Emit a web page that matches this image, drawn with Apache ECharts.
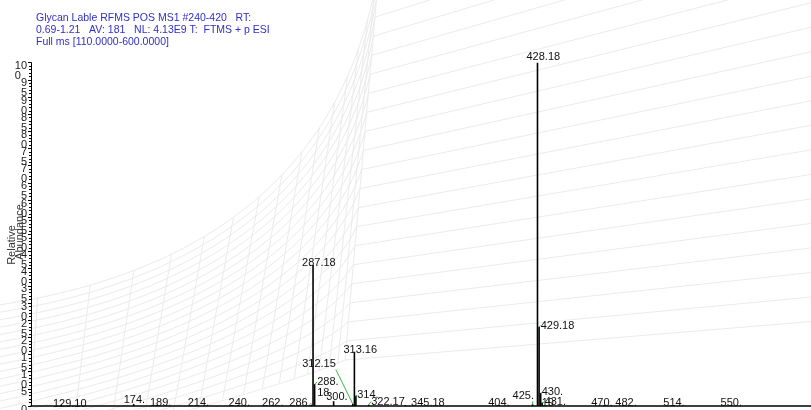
<!DOCTYPE html>
<html>
<head>
<meta charset="utf-8">
<script src="https://cdn.jsdelivr.net/npm/echarts@6/dist/echarts.min.js"></script>
<style>
  html, body { margin: 0; padding: 0; background: #fff; }
  #chart { width: 811px; height: 410px; }
</style>
</head>
<body>
<div id="chart"></div>
<script>
// Scan header
const headerLines = [
  'Glycan Lable RFMS POS MS1 #240-420   RT:',
  '0.69-1.21   AV: 181   NL: 4.13E9 T:  FTMS + p ESI',
  'Full ms [110.0000-600.0000]'
];

// Centroid peaks: m/z, relative abundance (%), and the printed peak label
const mzValues = [129.10, 174.50, 189.10, 214.10, 240.10, 262.10, 286.10, 287.18, 288.18, 300.10,
                  312.15, 313.16, 314.10, 322.17, 345.18, 404.10, 425.10, 428.18, 429.18, 430.19,
                  431.10, 470.10, 482.10, 514.10, 550.10];
const abundances = [0.3, 0.6, 0.3, 0.3, 0.3, 0.2, 0.3, 41.1, 6.4, 1.4,
                    0.6, 15.8, 3.0, 0.4, 0.3, 0.3, 0.5, 100, 23.1, 3.8,
                    1.0, 0.3, 0.3, 0.3, 0.3];
const peakLabels = ['129.10', '174.', '189.', '214.', '240.', '262.', '286.', '287.18', '288.\n18', '300.',
                    '312.15', '313.16', '314.', '322.17', '345.18', '404.', '425.', '428.18', '429.18', '430.\n19',
                    '431.', '470.', '482.', '514.', '550.'];

// Axis ranges and abundance tick labels
const mzRange = [110, 600];
const abundanceRange = [0, 100];
const abundanceStep = 5;
const abundanceTicks = [0, 5, 10, 15, 20, 25, 30, 35, 40, 45, 50, 55, 60, 65, 70, 75, 80, 85, 90, 95, 100];

// Label placement (pixel nudges relative to the peak top) and guide lines
const labelNudge = {
  0: { dx: -8.5, dy: -6.5 },
  1: { dx: -10, dy: -9 },
  2: { dx: -7 },
  3: { dx: -9 },
  4: { dx: -9.5 },
  6: { dx: -22, leader: true },
  8: { dx: 2.6, leader: true },
  9: { dx: -7.4, dy: -9.7 },
  10: { dx: -50.6, dy: -45.4, leader: true },
  12: { dx: 1.3, dy: -6.2, leader: true },
  13: { dx: 2.4, dy: -8.6, leader: true },
  14: { dx: 5.7 },
  16: { dx: -20, dy: -13.8, leader: true },
  17: { dy: -11.5 },
  18: { dx: 1.6, dy: -6.7, leader: true },
  19: { dx: 1, dy: -6, leader: true },
  20: { dx: 2.5, dy: -6, leader: true },
  21: { dx: -13 },
  22: { dx: -8 }
};

const FONT_FAMILY = '"Liberation Sans", Arial, Helvetica, sans-serif';
const LABEL_SIZE = 11;
const LINE_H = 11;
const measureCtx = document.createElement('canvas').getContext('2d');
measureCtx.font = LABEL_SIZE + 'px ' + FONT_FAMILY;

// Faint warped mesh behind the plot
function buildMesh() {
  const els = [];
  const stroke = '#ebebeb';
  const frame = v => {
    const A = [-40, 310 + 160 * v];
    const B = [380 - 35 * v, -40 + 400 * v];
    const C = [830, -200 + 520 * v];
    const Q = [B[0] - 45 - 20 * v, A[1] - 40 - 40 * v];
    return { A, B, C, Q };
  };
  const bez = (f, p) => [
    (1 - p) * (1 - p) * f.A[0] + 2 * (1 - p) * p * f.Q[0] + p * p * f.B[0],
    (1 - p) * (1 - p) * f.A[1] + 2 * (1 - p) * p * f.Q[1] + p * p * f.B[1]
  ];
  const nH = 22, nV = 16, steps = 48;
  for (let i = 0; i < nH; i++) {
    const f = frame(i / (nH - 1));
    const pts = [];
    for (let k = 0; k <= steps; k++) pts.push(bez(f, k / steps));
    pts.push(f.C);
    els.push({ type: 'polyline', silent: true, z: 0, shape: { points: pts }, style: { stroke, lineWidth: 1, fill: null } });
  }
  for (let j = 1; j <= nV; j++) {
    const p = Math.pow(j / nV, 0.8);
    const pts = [];
    for (let k = 0; k <= steps; k++) pts.push(bez(frame(k / steps), p));
    els.push({ type: 'polyline', silent: true, z: 0, shape: { points: pts }, style: { stroke, lineWidth: 1, fill: null } });
  }
  return els;
}

const chart = echarts.init(document.getElementById('chart'), null, { renderer: 'canvas' });

const peakData = mzValues.map((mz, i) => [mz, abundances[i], i]);
const tickData = abundanceTicks.map(v => [mzRange[0], v]);

function renderPeak(params, api) {
  const i = api.value(2);
  const base = api.coord([api.value(0), 0]);
  const top = api.coord([api.value(0), api.value(1)]);
  const n = Object.assign({ dx: -11, dy: -7.5, leader: false }, labelNudge[i] || {});
  const text = peakLabels[i];
  const lines = text.split('\n');
  const w = Math.max.apply(null, lines.map(l => measureCtx.measureText(l).width));
  const lx = top[0] + n.dx;
  const ly = top[1] + n.dy;
  const children = [{
    type: 'line',
    shape: { x1: base[0], y1: base[1], x2: top[0], y2: top[1] },
    style: { stroke: '#000', lineWidth: 1.6 }
  }];
  if (n.leader) {
    const ax = Math.min(Math.max(top[0], lx), lx + w);
    const ay = top[1] > ly + LINE_H ? ly + LINE_H : ly + LINE_H / 2;
    children.push({
      type: 'line',
      shape: { x1: top[0], y1: top[1], x2: ax, y2: ay },
      style: { stroke: '#3cb83c', lineWidth: 1 }
    });
  }
  children.push({
    type: 'text',
    x: lx, y: ly,
    style: {
      text: text,
      fontSize: LABEL_SIZE,
      fontFamily: FONT_FAMILY,
      fill: '#111',
      align: 'left', verticalAlign: 'top',
      textAlign: 'left', textVerticalAlign: 'top',
      lineHeight: LINE_H
    }
  });
  return { type: 'group', children };
}

// Abundance tick labels: the last digit wraps onto a second line
function renderTickLabel(params, api) {
  const v = api.value(1);
  const pos = api.coord([api.value(0), v]);
  const s = String(v);
  const text = s.length > 1 ? s.slice(0, -1) + '\n' + s.slice(-1) + '\u2007'.repeat(s.length - 2) : s;
  return {
    type: 'text',
    x: pos[0] - 4, y: pos[1] - 1.5,
    style: {
      text: text,
      fontSize: 11, fontFamily: FONT_FAMILY, fill: '#222',
      align: 'right', verticalAlign: 'top',
      textAlign: 'right', textVerticalAlign: 'top',
      lineHeight: 10
    }
  };
}

const option = {
  animation: false,
  backgroundColor: '#fff',
  title: {
    text: headerLines.join('\n'),
    left: 36, top: 12, padding: 0,
    textStyle: { color: '#2f2fc4', fontSize: 10.5, fontWeight: 'normal', fontFamily: FONT_FAMILY, lineHeight: 12 }
  },
  graphic: buildMesh().concat([
    { type: 'text', silent: true, rotation: Math.PI / 2, x: 11.5, y: 245, z: 5,
      style: { text: 'Relative', fontSize: 11, fontFamily: FONT_FAMILY, fill: '#333', align: 'center', verticalAlign: 'middle' } },
    { type: 'text', silent: true, rotation: Math.PI / 2, x: 19.5, y: 232, z: 5,
      style: { text: 'Abundance', fontSize: 11, fontFamily: FONT_FAMILY, fill: '#333', align: 'center', verticalAlign: 'middle' } }
  ]),
  grid: { left: 31, right: -2, top: 62.7, bottom: 4, containLabel: false },
  xAxis: {
    type: 'value', min: mzRange[0], max: mzRange[1],
    axisLine: { show: true, lineStyle: { color: '#000', width: 1.5 } },
    axisTick: { show: false },
    axisLabel: { show: false },
    splitLine: { show: false }
  },
  yAxis: {
    type: 'value', min: abundanceRange[0], max: abundanceRange[1], interval: abundanceStep,
    axisLine: { show: true, lineStyle: { color: '#000', width: 1 } },
    axisTick: { show: true, length: 3, lineStyle: { color: '#000' } },
    minorTick: { show: true, splitNumber: 5, length: 2, lineStyle: { color: '#000' } },
    splitLine: { show: false },
    axisLabel: { show: false }
  },
  series: [{
    type: 'custom',
    renderItem: renderPeak,
    data: peakData,
    encode: { x: 0, y: 1 },
    clip: false,
    z: 3
  }, {
    type: 'custom',
    renderItem: renderTickLabel,
    data: tickData,
    encode: { x: 0, y: 1 },
    clip: false,
    silent: true,
    z: 4
  }]
};

chart.setOption(option);
</script>
</body>
</html>
